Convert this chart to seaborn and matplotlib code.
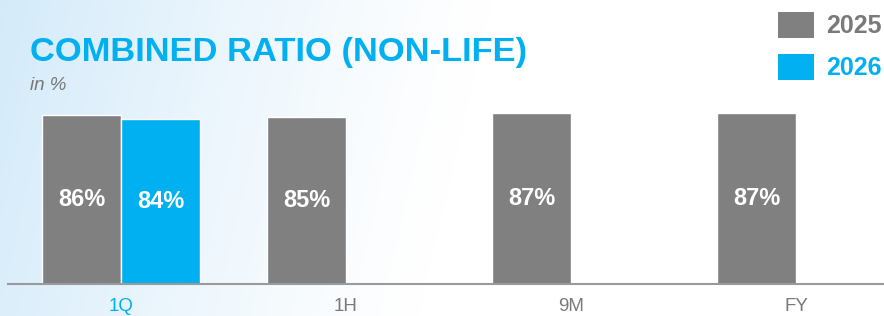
import numpy as np
import pandas as pd
import matplotlib
matplotlib.use("Agg")
import matplotlib.pyplot as plt
from matplotlib.patches import Rectangle
import seaborn as sns

periods = ["1Q", "1H", "9M", "FY"]
years = ["2025", "2026"]
values_2025 = [86, 85, 87, 87]
values_2026 = [84, np.nan, np.nan, np.nan]
title = "COMBINED RATIO (NON-LIFE)"
subtitle = "in %"

GRAY = "#808080"
CYAN = "#00b0f0"

df = pd.DataFrame({
    "period": periods * 2,
    "year": ["2025"] * 4 + ["2026"] * 4,
    "value": values_2025 + values_2026,
})

sns.set_theme(style="white")
plt.rcParams["font.family"] = ["Liberation Sans", "DejaVu Sans"]

W, H = 884, 316
fig = plt.figure(figsize=(W / 100, H / 100), dpi=100)

# background gradient
bg = fig.add_axes([0, 0, 1, 1], zorder=-10)
xs = np.linspace(0, 1, 400)
ys = np.linspace(0, 1, 150)
X, Y = np.meshgrid(xs, ys)
t = np.clip(1 - (X * 1.8 + 0.15 * Y), 0, 1) ** 1.2
c0 = np.array([0.83, 0.92, 0.98])
c1 = np.array([1.0, 1.0, 1.0])
img = c1[None, None, :] * (1 - t[..., None]) + c0[None, None, :] * t[..., None]
bg.imshow(img, aspect="auto", extent=[0, 1, 0, 1], origin="upper")
bg.set_axis_off()

ax = fig.add_axes([8 / W, 32 / H, 1 - 8 / W, 1 - 32 / H])
ax.patch.set_alpha(0)
sns.barplot(data=df, x="period", y="value", hue="year", hue_order=years,
            order=periods, palette=[GRAY, CYAN], saturation=1, width=0.7, gap=0,
            edgecolor="white", linewidth=1, legend=False, ax=ax)

ax.set_ylim(0, 284 / 1.97)
ax.set_xlim((8 - 121) / 225, (884 - 121) / 225)
for s in ["top", "right", "left"]:
    ax.spines[s].set_visible(False)
ax.spines["bottom"].set_color("#9a9a9a")
ax.spines["bottom"].set_linewidth(1.5)
ax.set_xlabel("")
ax.set_ylabel("")
ax.set_yticks([])
ax.tick_params(axis="x", length=0, pad=10)
for lbl in ax.get_xticklabels():
    lbl.set_fontsize(13.5)
    lbl.set_color(CYAN if lbl.get_text() == "1Q" else "#7a7a7a")

for cont in ax.containers:
    for bar in cont:
        h = bar.get_height()
        if np.isnan(h) or h == 0:
            continue
        ax.text(bar.get_x() + bar.get_width() / 2, h / 2, f"{h:.0f}%",
                ha="center", va="center", color="white",
                fontsize=17, fontweight="bold")

fig.text(30 / W, 1 - 52 / H, title, color=CYAN, fontsize=24.8,
         fontweight="bold", ha="left", va="center")
fig.text(30 / W, 1 - 86 / H, subtitle, color="#777777", fontsize=13.5,
         style="italic", ha="left", va="center")

# legend
for i, (yr, col) in enumerate(zip(years, [GRAY, CYAN])):
    y_top = 12 + i * 42
    fig.patches.append(Rectangle((778 / W, 1 - (y_top + 26) / H), 36 / W, 26 / H,
                                 transform=fig.transFigure, facecolor=col,
                                 edgecolor="none"))
    fig.text(826 / W, 1 - (y_top + 14) / H, yr, color="#7a7a7a" if i == 0 else CYAN,
             fontsize=18, fontweight="bold", ha="left", va="center")

fig.savefig("out.png", dpi=100)
